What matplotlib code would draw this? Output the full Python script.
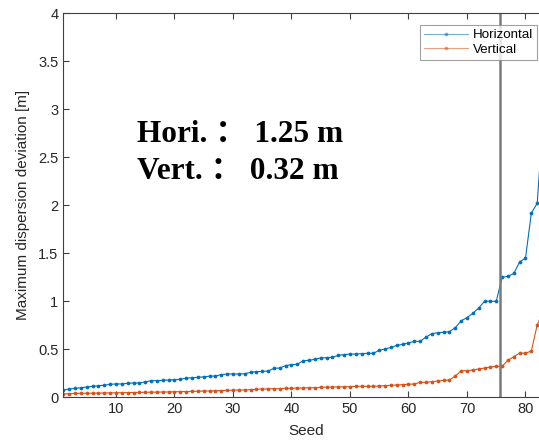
import numpy as np
import matplotlib.pyplot as plt

# 数据：每个种子的最大离散偏差
seeds = np.arange(1, 84)

horizontal = [
    0.076, 0.086, 0.093, 0.100, 0.107, 0.114, 0.121, 0.125, 0.135, 0.139,
    0.139, 0.146, 0.149, 0.149, 0.160, 0.173, 0.173, 0.177, 0.180, 0.184,
    0.187, 0.200, 0.204, 0.208, 0.213, 0.220, 0.222, 0.236, 0.243, 0.243,
    0.243, 0.246, 0.260, 0.267, 0.270, 0.274, 0.302, 0.305, 0.330, 0.340,
    0.344, 0.381, 0.385, 0.396, 0.410, 0.413, 0.417, 0.437, 0.445, 0.450,
    0.450, 0.455, 0.458, 0.458, 0.490, 0.503, 0.520, 0.540, 0.552, 0.566,
    0.583, 0.583, 0.628, 0.663, 0.673, 0.677, 0.684, 0.725, 0.797, 0.830,
    0.875, 0.930, 1.000, 1.000, 1.000, 1.250, 1.260, 1.290, 1.410, 1.450,
    1.920, 2.020, 2.900,
]

vertical = [
    0.035, 0.038, 0.040, 0.041, 0.042, 0.043, 0.044, 0.045, 0.046, 0.047,
    0.048, 0.049, 0.050, 0.051, 0.052, 0.053, 0.054, 0.055, 0.056, 0.058,
    0.059, 0.060, 0.062, 0.063, 0.066, 0.066, 0.069, 0.069, 0.073, 0.073,
    0.076, 0.076, 0.080, 0.083, 0.087, 0.087, 0.090, 0.090, 0.094, 0.094,
    0.097, 0.097, 0.100, 0.100, 0.104, 0.106, 0.107, 0.109, 0.109, 0.111,
    0.114, 0.114, 0.114, 0.114, 0.118, 0.121, 0.125, 0.128, 0.132, 0.135,
    0.139, 0.156, 0.156, 0.163, 0.170, 0.177, 0.180, 0.222, 0.275, 0.278,
    0.284, 0.295, 0.305, 0.316, 0.323, 0.323, 0.385, 0.423, 0.460, 0.460,
    0.482, 0.753, 0.900,
]

cut_seed = 75.6
hori_val = "1.25"
vert_val = "0.32"

blue = "#0072BD"
orange = "#D95319"
axcol = "#404040"

plt.rcParams["font.family"] = ["Liberation Sans", "DejaVu Sans"]

fig = plt.figure(figsize=(5.39, 4.42), dpi=100)
W, H = 539, 442
ax = fig.add_axes([63.3 / W, (H - 397.3) / H, 485.6 / W, 384 / H])

ax.plot(seeds, horizontal, "-", color=blue, lw=0.8, marker="o", ms=2.7,
        markeredgewidth=0, label="Horizontal")
ax.plot(seeds, vertical, "-", color=orange, lw=0.8, marker="o", ms=2.7,
        markeredgewidth=0, label="Vertical")
ax.axvline(cut_seed, color="#7a7a7a", lw=1.8)

ax.set_xlim(1, 84)
ax.set_ylim(0, 4)
ax.set_xticks(np.arange(10, 90, 10))
ax.set_yticks(np.arange(0, 4.01, 0.5))
ax.set_yticklabels(["0", "0.5", "1", "1.5", "2", "2.5", "3", "3.5", "4"])

for s in ax.spines.values():
    s.set_color(axcol)
    s.set_linewidth(0.8)
ax.tick_params(direction="in", length=4, width=0.8, color=axcol,
               labelcolor="#262626", labelsize=10.5, top=True, right=True)

ax.set_xlabel("Seed", fontsize=11, color="#262626", labelpad=6)
ax.set_ylabel("Maximum dispersion deviation [m]", fontsize=11,
              color="#262626", labelpad=6)

leg = fig.legend(loc="upper right", bbox_to_anchor=(536.7 / W, (H - 25) / H),
                 bbox_transform=fig.transFigure, fontsize=9.6, frameon=True,
                 fancybox=False, handlelength=3.3, borderpad=0.3,
                 labelspacing=0.15, handletextpad=0.3, borderaxespad=0)
leg.get_frame().set_edgecolor("#8a8a8a")
leg.get_frame().set_linewidth(0.8)
for h in leg.legend_handles:
    h.set_alpha(0.55)

font_note = dict(family=["Liberation Serif", "Noto Sans CJK SC"],
                 weight="bold", fontsize=22.5, color="black")
fig.text(137 / W, (H - 142) / H, "Hori. ： " + hori_val + " m", **font_note)
fig.text(137 / W, (H - 179) / H, "Vert. ： " + vert_val + " m", **font_note)

fig.savefig("out.png", dpi=100)
